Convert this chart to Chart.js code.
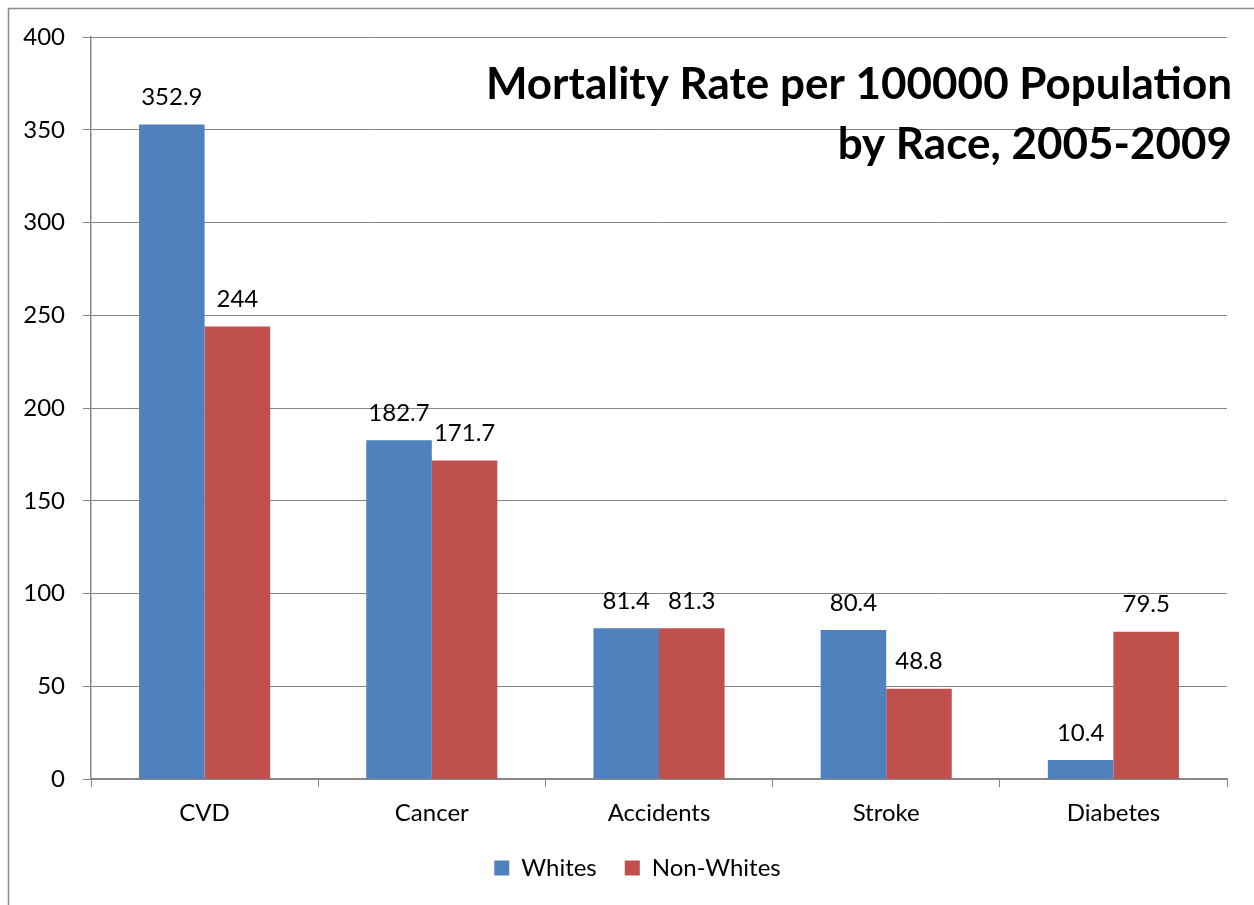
<!DOCTYPE html>
<html>
<head>
<meta charset="utf-8">
<script src="https://cdn.jsdelivr.net/npm/chart.js@4/dist/chart.umd.min.js"></script>
<style>
  html, body { margin: 0; padding: 0; background: #fff; }
  #wrap { width: 1254px; height: 905px; }
</style>
</head>
<body>
<div id="wrap"><canvas id="chart" width="1254" height="905"></canvas></div>
<script>
// data
const categories = ["CVD", "Cancer", "Accidents", "Stroke", "Diabetes"];
const whites = [352.9, 182.7, 81.4, 80.4, 10.4];
const nonWhites = [244, 171.7, 81.3, 48.8, 79.5];
const seriesNames = ["Whites", "Non-Whites"];
const titleLines = ["Mortality Rate per 100000 Population", "by Race, 2005-2009"];

const FONT = "Lato, 'Open Sans', sans-serif";
const GRID = "#868686";

// outer frame + title + value labels
const extras = {
  id: "extras",
  afterLayout(chart) {
    // nudge legend to where the original sits
    const lg = chart.legend;
    lg.left += 24; lg.right += 24;
    lg.top -= 12; lg.bottom -= 12;
  },
  beforeDraw(chart) {
    const c = chart.ctx;
    c.save();
    c.strokeStyle = "#8c8c8c";
    c.lineWidth = 1.5;
    c.strokeRect(8.5, 8.5, chart.width + 10, chart.height + 10);
    c.restore();
  },
  afterDatasetsDraw(chart) {
    const c = chart.ctx;
    c.save();
    c.fillStyle = "#000";
    c.font = "24px " + FONT;
    c.textAlign = "center";
    c.textBaseline = "middle";
    chart.data.datasets.forEach((ds, i) => {
      chart.getDatasetMeta(i).data.forEach((bar, j) => {
        c.fillText(String(ds.data[j]), bar.x, bar.y - 27);
      });
    });
    // title
    c.font = "bold 44px " + FONT;
    c.textAlign = "right";
    const right = chart.chartArea.right + 5;
    c.fillText(titleLines[0], right, 85);
    c.fillText(titleLines[1], right, 145);
    c.restore();
  }
};

new Chart(document.getElementById("chart"), {
  type: "bar",
  data: {
    labels: categories,
    datasets: [
      { label: seriesNames[0], data: whites, backgroundColor: "#4F81BD" },
      { label: seriesNames[1], data: nonWhites, backgroundColor: "#C0504D" }
    ]
  },
  options: {
    responsive: false,
    animation: false,
    categoryPercentage: 0.577,
    barPercentage: 1,
    layout: { padding: { top: 37, right: 27, left: 0, bottom: 3 } },
    plugins: {
      legend: {
        position: "bottom",
        labels: {
          boxWidth: 15,
          boxHeight: 15,
          padding: 28,
          color: "#000",
          font: { family: FONT, size: 24 }
        }
      },
      tooltip: { enabled: false }
    },
    scales: {
      x: {
        grid: { display: true, drawOnChartArea: false, color: GRID, tickLength: 8, offset: true },
        border: { color: GRID, width: 1.5 },
        ticks: { color: "#000", font: { family: FONT, size: 24 }, padding: 12 }
      },
      y: {
        min: 0,
        max: 400,
        ticks: { stepSize: 50, color: "#000", font: { family: FONT, size: 24 }, padding: 18 },
        grid: { color: GRID, tickLength: 8 },
        border: { color: GRID, width: 1.5 },
        afterFit(scale) { scale.width = 91; }
      }
    }
  },
  plugins: [extras]
});
</script>
</body>
</html>
